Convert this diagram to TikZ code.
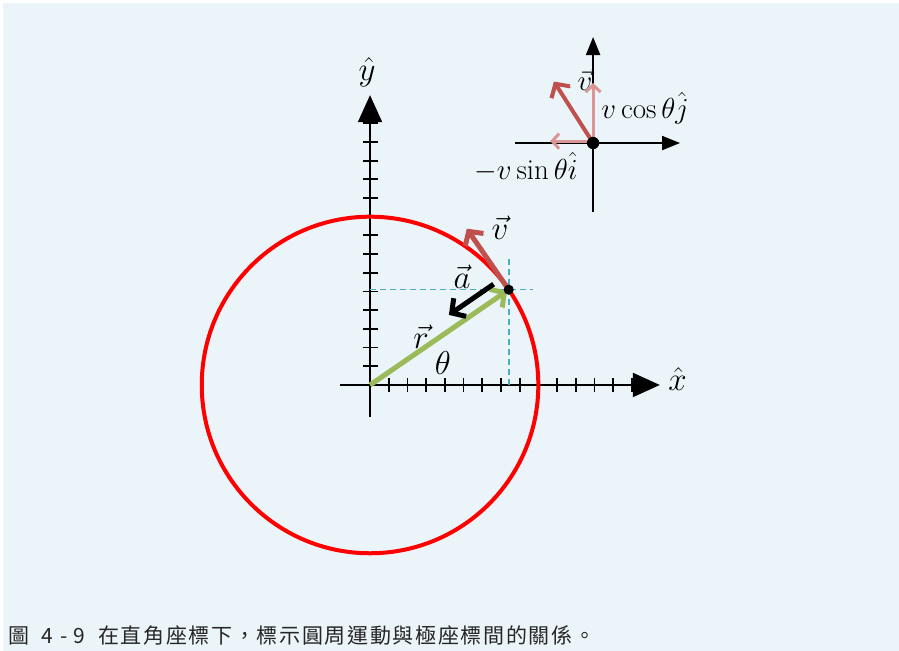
\RequirePackage{fix-cm}
\documentclass[tikz,border=0pt]{standalone}
\usepackage{fontspec}
\newfontfamily\cjk[LetterSpace=8]{Noto Sans CJK TC}
\usetikzlibrary{arrows.meta,calc}
\definecolor{bgblue}{HTML}{EBF4F8}
\definecolor{vecred}{HTML}{C0504D}
\definecolor{vecpink}{HTML}{DA9694}
\definecolor{vecgreen}{HTML}{9BBB59}
\definecolor{dashcyan}{HTML}{4BACC6}

\begin{document}
\begin{tikzpicture}[x=18.7pt, y=18.7pt,
    axis/.style={line width=2pt, -{Triangle[length=27pt,width=24pt]}},
    smallaxis/.style={line width=2pt, -{Triangle[length=18pt,width=14pt]}},
    axtick/.style={line width=1.8pt},
    guide/.style={dashcyan, line width=1.6pt, dash pattern=on 6pt off 4pt},
    vec/.style={line width=5pt, -{Straight Barb[length=10pt,width=22pt]},
        preaction={draw=black!40, transform canvas={shift={(1.5pt,-1.5pt)}}}},
    comp/.style={vecpink, line width=3pt, -{Straight Barb[length=7pt,width=15pt]}},
    lbl/.style={font=\fontsize{29}{33}\selectfont},
    biglbl/.style={font=\fontsize{33}{37}\selectfont}
]
    \fill[white] (-19.79,-14.22) rectangle (28.29,20.59);
    \useasboundingbox (-19.79,-14.22) rectangle (28.29,20.59);
    \fill[bgblue] (-19.63,-14.22) rectangle (28.29,20.43);

    % main axes
    \coordinate (O) at (0,0);
    \draw[axis] (-1.6,0) -- (15.5,0);
    \draw[axis] (0,-1.7) -- (0,15.5);
    \foreach \k in {1,...,14} {
        \draw[axtick] (\k,-0.4) -- (\k,0.4);
        \draw[axtick] (-0.4,\k) -- (0.4,\k);
    }
    \node[biglbl] (xhat) at (16.45,0.3) {$\hat{x}$};
    \node[biglbl] (yhat) at (-0.16,16.74) {$\hat{y}$};

    % circle and position
    \draw[red, line width=4pt] (O) circle (9);
    \coordinate (P) at (34.5:9);
    \draw[guide] (O |- P) -- ++(8.72,0);
    \draw[guide] (P |- O) -- ++(0,6.95);

    \draw[vec, vecgreen, shorten >=2pt] (O) -- (P);
    \draw[vec, vecred] (P) -- ++(124.5:3.96) coordinate (vtip);
    \draw[vec, black] ($(P)+(124.5:0.7)+(214.5:0.5)$) coordinate (atail)
        -- ++(214.5:2.9) coordinate (atip);
    \fill (P) circle (0.27);

    \node[biglbl] (theta) at (3.9,1.15) {$\theta$};
    \node[biglbl] (rlab) at (2.73,2.6) {$\vec{r}$};
    \node[biglbl] (alab) at (4.92,5.8) {$\vec{a}$};
    \node[biglbl] (vlab) at (6.95,8.42) {$\vec{v}$};

    % inset: components of v
    \coordinate (Q) at (11.93,12.94);
    \draw[smallaxis] ($(Q)+(-4.17,0)$) -- ++(8.82,0);
    \draw[smallaxis] ($(Q)+(0,-3.69)$) -- ++(0,9.36);
    \node[lbl] (vlab2) at (11.5,16.31) {$\vec{v}$};
    \draw[vec, vecred, line width=4pt] (Q) -- ++(122.5:3.9);
    \draw[comp] (Q) -- ++(0,3.21);
    \draw[comp] ($(Q)+(0,0.1)$) -- ++(-2.3,0);
    \fill (Q) circle (0.33);
    \node[lbl] (vcos) at (14.71,14.81) {$v\cos\theta\hat{j}$};
    \node[lbl] (vsin) at (8.34,11.66) {$-v\sin\theta\hat{i}$};

    \node[anchor=west, inner sep=0pt, text=black!85,
        font=\cjk\fontsize{21}{25}\selectfont] (caption) at (-19.36,-13.42)
        {圖\ \ 4 - 9\ \ 在直角座標下，標示圓周運動與極座標間的關係。};
\end{tikzpicture}
\end{document}
